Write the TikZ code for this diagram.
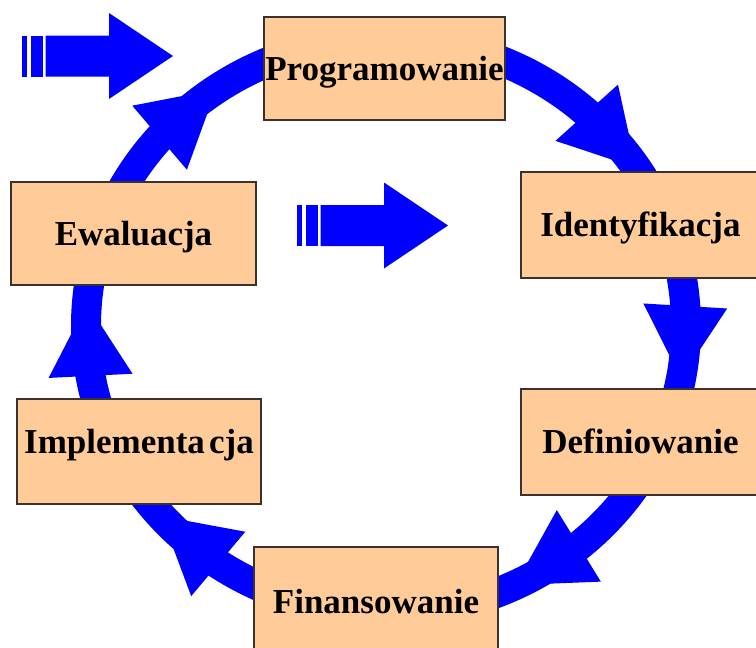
\documentclass[tikz,border=0pt]{standalone}
\usepackage{fontspec}
\setmainfont{Liberation Serif}
\definecolor{boxfill}{RGB}{255,204,153}
\definecolor{bandblue}{RGB}{0,0,255}
\definecolor{boxline}{RGB}{60,50,45}
\tikzset{
  stagebox/.style={draw=boxline, line width=1.2pt, fill=boxfill,
    font=\fontsize{35}{40}\selectfont\bfseries,
    text height=23pt, text depth=0pt, inner sep=0pt},
  band/.style={draw=bandblue, line width=30pt},
  blockarrow/.pic={
    \fill[bandblue] (0,-20.5) rectangle (5,20.5);
    \fill[bandblue] (9,-20.5) rectangle (20.5,20.5);
    \fill[bandblue] (23.5,-20.5) -- (87,-20.5) -- (87,-43) -- (151,0)
      -- (87,43) -- (87,20.5) -- (23.5,20.5) -- cycle;
  }
}
\begin{document}
\begin{tikzpicture}[x=1pt,y=-1pt]
\useasboundingbox (0,0) rectangle (756,648);
% cycle band
\draw[band] (386,326) ellipse [x radius=300pt, y radius=287pt];
% arrowheads on the band
\foreach \t in {48,4,-50,-124,-170,139}{
  \pgfmathsetmacro\bx{386+300*cos(\t)}
  \pgfmathsetmacro\by{326-287*sin(\t)}
  \pgfmathsetmacro\px{386+300*cos(\t-14.5)}
  \pgfmathsetmacro\py{326-287*sin(\t-14.5)}
  \pgfmathsetmacro\ddx{\px-\bx}
  \pgfmathsetmacro\ddy{\py-\by}
  \pgfmathsetmacro\nn{veclen(\ddx,\ddy)}
  \pgfmathsetmacro\ux{\ddx/\nn}
  \pgfmathsetmacro\uy{\ddy/\nn}
  \fill[bandblue] (\px,\py) -- ({\bx-42*\uy},{\by+42*\ux})
    -- ({\bx+42*\uy},{\by-42*\ux}) -- cycle;
}
% stage boxes
\node[stagebox, minimum width=241pt, minimum height=103pt] (prog) at (384.5,68.5) {Programowanie};
\node[stagebox, minimum width=239pt, minimum height=106pt] (ident) at (640.5,225) {Identyfikacja};
\node[stagebox, minimum width=239pt, minimum height=106pt] (defin) at (640.5,442) {Definiowanie};
\node[stagebox, minimum width=244pt, minimum height=110pt] (finan) at (376,602) {Finansowanie};
\node[stagebox, minimum width=244pt, minimum height=105pt, text depth=20pt] (impl) at (139,451.5) {{\spaceskip=0.12em Implementa cja}};
\node[stagebox, minimum width=245pt, minimum height=103pt] (ewal) at (133.5,233.5) {Ewaluacja};
% block arrows
\pic at (22,56) {blockarrow};
\pic at (297,225.5) {blockarrow};
\end{tikzpicture}
\end{document}
